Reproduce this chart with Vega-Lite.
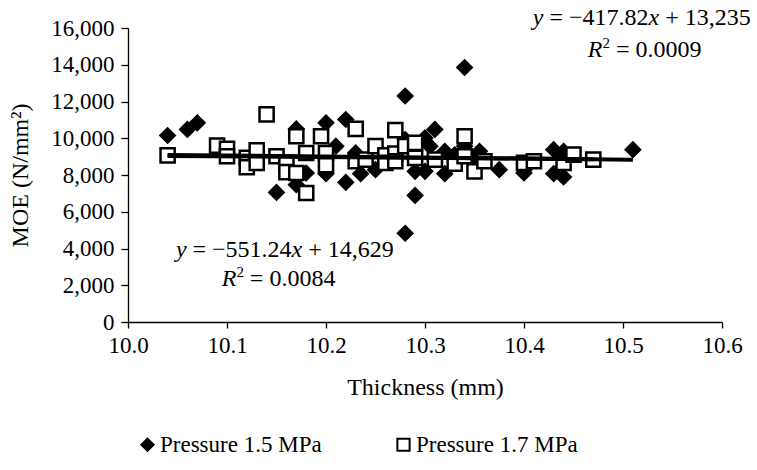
{
  "$schema": "https://vega.github.io/schema/vega-lite/v6.json",
  "width": 594,
  "height": 294,
  "autosize": {"type": "none"},
  "padding": {"left": 128, "top": 28, "right": 35, "bottom": 148},
  "background": "white",
  "config": {
    "view": {"stroke": null},
    "font": "Liberation Serif",
    "axis": {
      "grid": false,
      "domainColor": "black",
      "domainWidth": 1.3,
      "tickColor": "black",
      "tickWidth": 1.3,
      "labelFont": "Liberation Serif",
      "labelFontSize": 23,
      "labelColor": "black",
      "titleFont": "Liberation Serif",
      "titleFontSize": 24,
      "titleFontWeight": "normal",
      "titleColor": "black"
    },
    "legend": {
      "labelFont": "Liberation Serif",
      "labelFontSize": 23,
      "labelColor": "black",
      "labelLimit": 400
    }
  },
  "datasets": {
    "points": [
      {"t": 10.04, "moe": 10150, "series": "Pressure 1.5 MPa"},
      {"t": 10.06, "moe": 10480, "series": "Pressure 1.5 MPa"},
      {"t": 10.07, "moe": 10840, "series": "Pressure 1.5 MPa"},
      {"t": 10.15, "moe": 7050, "series": "Pressure 1.5 MPa"},
      {"t": 10.17, "moe": 10510, "series": "Pressure 1.5 MPa"},
      {"t": 10.17, "moe": 7470, "series": "Pressure 1.5 MPa"},
      {"t": 10.18, "moe": 8110, "series": "Pressure 1.5 MPa"},
      {"t": 10.2, "moe": 10840, "series": "Pressure 1.5 MPa"},
      {"t": 10.2, "moe": 8070, "series": "Pressure 1.5 MPa"},
      {"t": 10.21, "moe": 9570, "series": "Pressure 1.5 MPa"},
      {"t": 10.22, "moe": 11020, "series": "Pressure 1.5 MPa"},
      {"t": 10.22, "moe": 7600, "series": "Pressure 1.5 MPa"},
      {"t": 10.23, "moe": 9200, "series": "Pressure 1.5 MPa"},
      {"t": 10.235, "moe": 8070, "series": "Pressure 1.5 MPa"},
      {"t": 10.25, "moe": 8290, "series": "Pressure 1.5 MPa"},
      {"t": 10.26, "moe": 9000, "series": "Pressure 1.5 MPa"},
      {"t": 10.27, "moe": 9100, "series": "Pressure 1.5 MPa"},
      {"t": 10.28, "moe": 12300, "series": "Pressure 1.5 MPa"},
      {"t": 10.28, "moe": 9930, "series": "Pressure 1.5 MPa"},
      {"t": 10.28, "moe": 4830, "series": "Pressure 1.5 MPa"},
      {"t": 10.29, "moe": 6890, "series": "Pressure 1.5 MPa"},
      {"t": 10.29, "moe": 8200, "series": "Pressure 1.5 MPa"},
      {"t": 10.3, "moe": 10020, "series": "Pressure 1.5 MPa"},
      {"t": 10.3, "moe": 8200, "series": "Pressure 1.5 MPa"},
      {"t": 10.305, "moe": 9570, "series": "Pressure 1.5 MPa"},
      {"t": 10.31, "moe": 10480, "series": "Pressure 1.5 MPa"},
      {"t": 10.32, "moe": 9290, "series": "Pressure 1.5 MPa"},
      {"t": 10.32, "moe": 8070, "series": "Pressure 1.5 MPa"},
      {"t": 10.33, "moe": 9100, "series": "Pressure 1.5 MPa"},
      {"t": 10.34, "moe": 13850, "series": "Pressure 1.5 MPa"},
      {"t": 10.34, "moe": 9570, "series": "Pressure 1.5 MPa"},
      {"t": 10.35, "moe": 8900, "series": "Pressure 1.5 MPa"},
      {"t": 10.355, "moe": 9290, "series": "Pressure 1.5 MPa"},
      {"t": 10.375, "moe": 8290, "series": "Pressure 1.5 MPa"},
      {"t": 10.4, "moe": 8110, "series": "Pressure 1.5 MPa"},
      {"t": 10.43, "moe": 9380, "series": "Pressure 1.5 MPa"},
      {"t": 10.43, "moe": 8070, "series": "Pressure 1.5 MPa"},
      {"t": 10.44, "moe": 9290, "series": "Pressure 1.5 MPa"},
      {"t": 10.44, "moe": 7890, "series": "Pressure 1.5 MPa"},
      {"t": 10.51, "moe": 9380, "series": "Pressure 1.5 MPa"},
      {"t": 10.04, "moe": 9070, "series": "Pressure 1.7 MPa"},
      {"t": 10.09, "moe": 9600, "series": "Pressure 1.7 MPa"},
      {"t": 10.1, "moe": 9420, "series": "Pressure 1.7 MPa"},
      {"t": 10.1, "moe": 9020, "series": "Pressure 1.7 MPa"},
      {"t": 10.12, "moe": 8930, "series": "Pressure 1.7 MPa"},
      {"t": 10.12, "moe": 8420, "series": "Pressure 1.7 MPa"},
      {"t": 10.13, "moe": 9340, "series": "Pressure 1.7 MPa"},
      {"t": 10.13, "moe": 8660, "series": "Pressure 1.7 MPa"},
      {"t": 10.14, "moe": 11300, "series": "Pressure 1.7 MPa"},
      {"t": 10.15, "moe": 9020, "series": "Pressure 1.7 MPa"},
      {"t": 10.16, "moe": 8660, "series": "Pressure 1.7 MPa"},
      {"t": 10.16, "moe": 8160, "series": "Pressure 1.7 MPa"},
      {"t": 10.17, "moe": 10110, "series": "Pressure 1.7 MPa"},
      {"t": 10.17, "moe": 8110, "series": "Pressure 1.7 MPa"},
      {"t": 10.18, "moe": 9200, "series": "Pressure 1.7 MPa"},
      {"t": 10.18, "moe": 7020, "series": "Pressure 1.7 MPa"},
      {"t": 10.195, "moe": 10110, "series": "Pressure 1.7 MPa"},
      {"t": 10.2, "moe": 9200, "series": "Pressure 1.7 MPa"},
      {"t": 10.2, "moe": 8530, "series": "Pressure 1.7 MPa"},
      {"t": 10.23, "moe": 10510, "series": "Pressure 1.7 MPa"},
      {"t": 10.23, "moe": 8750, "series": "Pressure 1.7 MPa"},
      {"t": 10.24, "moe": 8840, "series": "Pressure 1.7 MPa"},
      {"t": 10.25, "moe": 9570, "series": "Pressure 1.7 MPa"},
      {"t": 10.26, "moe": 9070, "series": "Pressure 1.7 MPa"},
      {"t": 10.26, "moe": 8660, "series": "Pressure 1.7 MPa"},
      {"t": 10.27, "moe": 10440, "series": "Pressure 1.7 MPa"},
      {"t": 10.27, "moe": 9170, "series": "Pressure 1.7 MPa"},
      {"t": 10.27, "moe": 8750, "series": "Pressure 1.7 MPa"},
      {"t": 10.28, "moe": 9570, "series": "Pressure 1.7 MPa"},
      {"t": 10.29, "moe": 9750, "series": "Pressure 1.7 MPa"},
      {"t": 10.29, "moe": 8930, "series": "Pressure 1.7 MPa"},
      {"t": 10.31, "moe": 8840, "series": "Pressure 1.7 MPa"},
      {"t": 10.33, "moe": 8620, "series": "Pressure 1.7 MPa"},
      {"t": 10.34, "moe": 10110, "series": "Pressure 1.7 MPa"},
      {"t": 10.34, "moe": 9020, "series": "Pressure 1.7 MPa"},
      {"t": 10.35, "moe": 8200, "series": "Pressure 1.7 MPa"},
      {"t": 10.36, "moe": 8750, "series": "Pressure 1.7 MPa"},
      {"t": 10.4, "moe": 8660, "series": "Pressure 1.7 MPa"},
      {"t": 10.41, "moe": 8750, "series": "Pressure 1.7 MPa"},
      {"t": 10.44, "moe": 8660, "series": "Pressure 1.7 MPa"},
      {"t": 10.45, "moe": 9110, "series": "Pressure 1.7 MPa"},
      {"t": 10.47, "moe": 8840, "series": "Pressure 1.7 MPa"}
    ],
    "fits": [
      {"t": 10.04, "moe": 9095, "fit": "a"},
      {"t": 10.51, "moe": 8836, "fit": "a"},
      {"t": 10.04, "moe": 9040, "fit": "b"},
      {"t": 10.47, "moe": 8860, "fit": "b"}
    ],
    "annItalic": [
      {"t": 10.4088, "moe": 16163, "s": "y"},
      {"t": 10.5258, "moe": 16163, "s": "x"},
      {"t": 10.4644, "moe": 14414, "s": "R"},
      {"t": 10.0484, "moe": 3537, "s": "y"},
      {"t": 10.1652, "moe": 3537, "s": "x"},
      {"t": 10.0947, "moe": 1951, "s": "R"}
    ],
    "annRoman": [
      {"t": 10.4257, "moe": 16163, "s": "= −417.82"},
      {"t": 10.5426, "moe": 16163, "s": "+ 13,235"},
      {"t": 10.4930, "moe": 14414, "s": "= 0.0009"},
      {"t": 10.0651, "moe": 3537, "s": "= −551.24"},
      {"t": 10.1820, "moe": 3537, "s": "+ 14,629"},
      {"t": 10.1231, "moe": 1951, "s": "= 0.0084"}
    ],
    "annSup": [
      {"t": 10.4794, "moe": 14906, "s": "2"},
      {"t": 10.1095, "moe": 2443, "s": "2"}
    ]
  },
  "encoding": {
    "x": {
      "field": "t", "type": "quantitative",
      "scale": {"domain": [10, 10.6], "nice": false, "zero": false},
      "axis": {"values": [10, 10.1, 10.2, 10.3, 10.4, 10.5, 10.6], "format": ".1f", "title": "Thickness (mm)", "titlePadding": 18, "labelPadding": 6, "tickSize": 6, "labelFlush": false}
    },
    "y": {
      "field": "moe", "type": "quantitative",
      "scale": {"domain": [0, 16000], "nice": false},
      "axis": {"values": [0, 2000, 4000, 6000, 8000, 10000, 12000, 14000, 16000], "format": ",d", "title": "MOE  (N/mm²)", "titlePadding": 18, "labelPadding": 7, "tickSize": 7, "labelFlush": false}
    }
  },
  "layer": [
    {
      "data": {"name": "points"},
      "mark": {"type": "point", "filled": true, "stroke": "black", "strokeWidth": 2.5, "opacity": 1, "size": 200},
      "encoding": {
        "shape": {
          "field": "series", "type": "nominal",
          "scale": {"domain": ["Pressure 1.5 MPa", "Pressure 1.7 MPa"], "range": ["diamond", "square"]},
          "legend": {"title": null, "orient": "none", "legendX": 8, "legendY": 405, "direction": "horizontal", "columnPadding": 70, "symbolSize": 150, "symbolStrokeWidth": 2, "labelOffset": 1, "labelFont": "Liberation Serif", "labelFontSize": 23, "labelLimit": 400,
            "encode": {"labels": {"update": {"font": {"value": "Liberation Serif"}, "fontSize": {"value": 23}, "fill": {"value": "black"}}}}}
        },
        "fill": {
          "field": "series", "type": "nominal",
          "scale": {"domain": ["Pressure 1.5 MPa", "Pressure 1.7 MPa"], "range": ["black", "white"]},
          "legend": {"title": null, "orient": "none", "legendX": 8, "legendY": 405, "direction": "horizontal", "columnPadding": 70, "symbolSize": 150, "symbolStrokeWidth": 2, "labelOffset": 1, "labelFont": "Liberation Serif", "labelFontSize": 23, "labelLimit": 400,
            "encode": {"labels": {"update": {"font": {"value": "Liberation Serif"}, "fontSize": {"value": 23}, "fill": {"value": "black"}}}}}
        }
      }
    },
    {
      "data": {"name": "fits"},
      "mark": {"type": "line", "color": "black", "strokeWidth": 4},
      "encoding": {"detail": {"field": "fit"}}
    },
    {
      "data": {"name": "annItalic"},
      "mark": {"type": "text", "font": "Liberation Serif", "fontSize": 24, "fontStyle": "italic", "color": "black", "align": "left", "baseline": "alphabetic"},
      "encoding": {"text": {"field": "s"}}
    },
    {
      "data": {"name": "annRoman"},
      "mark": {"type": "text", "font": "Liberation Serif", "fontSize": 24, "color": "black", "align": "left", "baseline": "alphabetic"},
      "encoding": {"text": {"field": "s"}}
    },
    {
      "data": {"name": "annSup"},
      "mark": {"type": "text", "font": "Liberation Serif", "fontSize": 15, "color": "black", "align": "left", "baseline": "alphabetic"},
      "encoding": {"text": {"field": "s"}}
    }
  ]
}
